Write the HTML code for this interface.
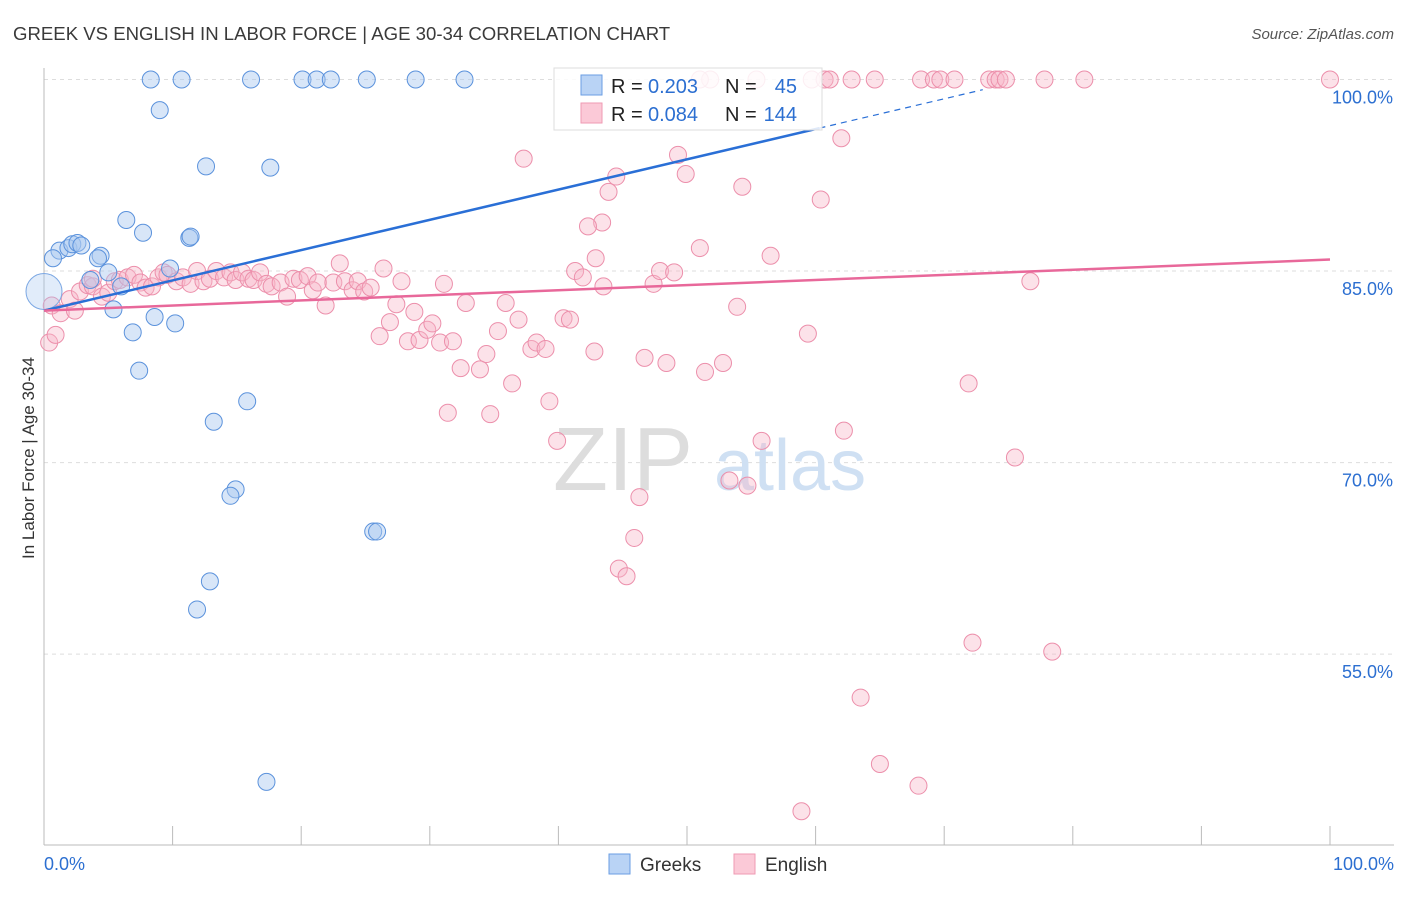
<!DOCTYPE html>
<html><head><meta charset="utf-8"><style>
body{margin:0;background:#fff;font-family:"Liberation Sans",sans-serif}
svg text{font-family:"Liberation Sans",sans-serif}
</style></head><body>
<svg id="chart" width="1406" height="892" xmlns="http://www.w3.org/2000/svg">
<text x="13" y="40" font-size="18.6" fill="#3a3a3a">GREEK VS ENGLISH IN LABOR FORCE | AGE 30-34 CORRELATION CHART</text>
<text x="1394" y="39" font-size="15" font-style="italic" fill="#555" text-anchor="end">Source: ZipAtlas.com</text>
<text transform="translate(34,458) rotate(-90)" font-size="17" fill="#333" text-anchor="middle">In Labor Force | Age 30-34</text>
<g id="grid"></g><g id="axes"></g>
<text x="553" y="490" font-size="90" fill="#ddd" font-family="Liberation Serif">ZIP</text>
<text x="714" y="490" font-size="72" fill="#cfe0f3">atlas</text>
<g id="pink"></g><g id="blue"></g><g id="lines"></g>
<g>
<rect x="554" y="68" width="268" height="62" fill="#fff" fill-opacity="0.85" stroke="#ddd"/>
<rect x="581" y="75" width="21" height="20" fill="#b9d3f5" stroke="#6a9ee3"/>
<rect x="581" y="103" width="21" height="20" fill="#fbc9d7" stroke="#ef9ab3"/>
<text x="611" y="93" font-size="20" fill="#222">R =</text>
<text x="648" y="93" font-size="20" fill="#2c6fd1">0.203</text>
<text x="725" y="93" font-size="20" fill="#222">N =</text>
<text x="797" y="93" font-size="20" fill="#2c6fd1" text-anchor="end">45</text>
<text x="611" y="121" font-size="20" fill="#222">R =</text>
<text x="648" y="121" font-size="20" fill="#2c6fd1">0.084</text>
<text x="725" y="121" font-size="20" fill="#222">N =</text>
<text x="797" y="121" font-size="20" fill="#2c6fd1" text-anchor="end">144</text>
</g>
<g>
<rect x="609" y="854" width="21" height="20" fill="#b9d3f5" stroke="#6a9ee3"/>
<text x="640" y="871" font-size="19" fill="#333">Greeks</text>
<rect x="734" y="854" width="21" height="20" fill="#fbc9d7" stroke="#ef9ab3"/>
<text x="765" y="871" font-size="19" fill="#333">English</text>
</g>
</svg>
<script>
const yTicks=[55,70,85,100];
const xTickLabels=["0.0%","100.0%"];
const blueX=[8.3,10.7,16.1,20.1,21.2,22.3,25.1,28.9,32.7,9.0,12.6,17.6,6.4,7.7,11.3,11.4,1.2,1.9,2.2,2.6,2.9,0.7,4.4,4.2,9.8,5.0,3.6,6.0,5.4,8.6,10.2,6.9,7.4,15.8,13.2,14.9,14.5,25.6,25.9,12.9,11.9,17.3];
const blueY=[100,100,100,100,100,100,100,100,100,97.6,93.2,93.1,89.0,88.0,87.6,87.7,86.6,86.8,87.1,87.2,87.0,86.0,86.2,86.0,85.2,84.9,84.3,83.8,82.0,81.4,80.9,80.2,77.2,74.8,73.2,67.9,67.4,64.6,64.6,60.7,58.5,45.0];
const pinkX=[51.8,55.4,59.7,60.7,61.1,62.8,64.6,68.2,69.2,69.7,70.8,73.5,74.0,74.3,74.8,77.8,80.9,100,51.0,37.3,62.0,49.3,49.9,44.5,43.9,54.3,60.4,43.4,42.3,51.0,56.5,42.9,
0.6,1.3,2.0,2.4,2.8,3.4,3.8,4.5,5.0,5.5,5.9,6.5,7.0,7.5,7.9,8.4,8.9,9.3,9.6,10.3,10.8,11.4,11.9,12.4,12.9,13.4,14.0,14.5,14.9,15.4,15.9,16.3,16.8,17.3,17.7,18.4,18.9,19.4,19.9,20.5,20.9,21.3,21.9,22.5,23.0,23.4,24.0,24.4,24.9,25.4,26.4,26.1,26.9,27.4,27.8,28.3,28.8,29.2,29.8,30.2,30.8,31.1,31.4,31.8,32.4,32.8,33.9,34.4,34.7,35.3,35.9,36.4,36.9,37.9,38.3,39.0,39.3,39.9,40.4,40.9,41.3,41.9,42.8,43.5,46.3,45.9,44.7,45.3,46.7,47.4,47.9,48.4,49.0,51.4,52.8,53.9,53.3,54.7,55.8,59.4,62.2,63.5,65.0,68.0,58.9,71.9,75.5,72.2,78.4,76.7,0.4,0.9,3.8];
const pinkY=[100,100,100,100,100,100,100,100,100,100,100,100,100,100,100,100,100,100,100,93.8,95.4,94.1,92.6,92.4,91.2,91.6,90.6,88.8,88.5,86.8,86.2,86.0,
82.3,81.7,82.8,81.9,83.4,83.9,83.8,83.0,83.3,84.2,84.3,84.5,84.7,84.1,83.7,83.8,84.5,84.9,84.7,84.2,84.5,84.0,85.0,84.2,84.4,85.0,84.5,84.9,84.3,84.9,84.4,84.3,84.9,84.0,83.8,84.1,83.0,84.4,84.3,84.6,83.5,84.1,82.3,84.1,85.6,84.2,83.5,84.2,83.4,83.7,85.2,79.9,81.0,82.4,84.2,79.5,81.8,79.6,80.4,80.9,79.4,84.0,73.9,79.5,77.4,82.5,77.3,78.5,73.8,80.3,82.5,76.2,81.2,78.9,79.4,78.9,74.8,71.7,81.3,81.2,85.0,84.5,78.7,83.8,67.3,64.1,61.7,61.1,78.2,84.0,85.0,77.8,84.9,77.1,77.8,82.2,68.6,68.2,71.7,80.1,72.5,51.6,46.4,44.7,42.7,76.2,70.4,55.9,55.2,84.2,79.4,80.0,84.4];
const blueFit=[81.9,0.237], pinkFit=[81.9,0.040];
const NS="http://www.w3.org/2000/svg";
const X=v=>44+v*12.86, Y=v=>79.5+(100-v)*12.77;
function mk(t,a,p){const e=document.createElementNS(NS,t);for(const k in a)e.setAttribute(k,a[k]);p.appendChild(e);return e;}
const grid=document.getElementById('grid'),axes=document.getElementById('axes');
yTicks.forEach(v=>{const l=mk('line',{x1:44,x2:1394,y1:Y(v),y2:Y(v),stroke:'#ddd','stroke-dasharray':'4,4'},grid);


const t=mk('text',{x:1393,y:Y(v)+24,'font-size':18,fill:'#2c6fd1','text-anchor':'end'},axes);t.textContent=v.toFixed(1)+'%';

});
mk('line',{x1:44,x2:44,y1:68,y2:845,stroke:'#bbb'},axes);
mk('line',{x1:44,x2:1394,y1:845,y2:845,stroke:'#bbb'},axes);
for(let i=0;i<=10;i++){mk('line',{x1:X(i*10),x2:X(i*10),y1:826,y2:845,stroke:'#bbb'},axes);}
[[0,'start',X(0)],[1,'end',1394]].forEach(([i,a,x])=>{const t=mk('text',{x:x,y:870,'font-size':18,fill:'#2c6fd1','text-anchor':a},axes);t.textContent=xTickLabels[i];

});
const pg=document.getElementById('pink');
pinkX.forEach((x,i)=>{const c=mk('circle',{cx:X(x),cy:Y(pinkY[i]),r:8.5,fill:'#f7b6c9','fill-opacity':0.4,stroke:'#ec8fab','stroke-width':1},pg);

});
const bg=document.getElementById('blue');
blueX.forEach((x,i)=>{const c=mk('circle',{cx:X(x),cy:Y(blueY[i]),r:8.5,fill:'#a8c8f0','fill-opacity':0.45,stroke:'#5b92dc','stroke-width':1},bg);

});
const big=mk('circle',{cx:X(0),cy:Y(83.4),r:18,fill:'#a8c8f0','fill-opacity':0.35,stroke:'#7ba7e3'},bg);


const lg=document.getElementById('lines');
const bl=mk('line',{x1:X(0),y1:Y(blueFit[0]),x2:X(60.3),y2:Y(blueFit[0]+blueFit[1]*60.3),stroke:'#2a6fd6','stroke-width':2.5},lg);


const bd=mk('line',{x1:X(60.3),y1:Y(blueFit[0]+blueFit[1]*60.3),x2:X(73),y2:Y(blueFit[0]+blueFit[1]*73),stroke:'#2a6fd6','stroke-width':1.2,'stroke-dasharray':'6,5'},lg);


const pl=mk('line',{x1:X(0),y1:Y(pinkFit[0]),x2:X(100),y2:Y(pinkFit[0]+pinkFit[1]*100),stroke:'#e8689a','stroke-width':2.5},lg);


</script>
</body></html>
